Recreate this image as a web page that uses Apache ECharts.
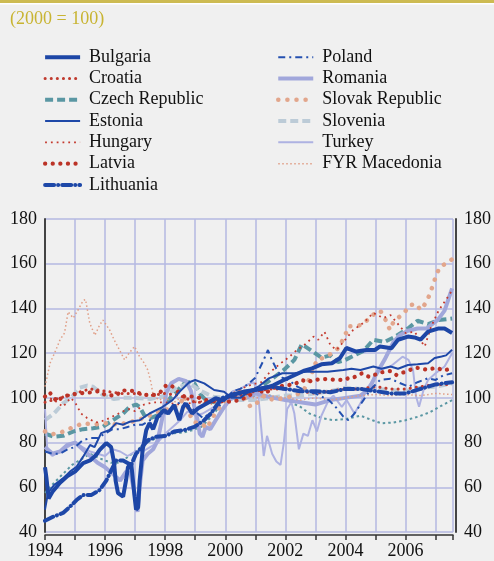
<!DOCTYPE html>
<html>
<head>
<meta charset="utf-8">
<script src="https://cdn.jsdelivr.net/npm/echarts@6/dist/echarts.min.js"></script>
<style>
  html, body { margin: 0; padding: 0; background: #f0f0f0; }
  #chart { width: 494px; height: 561px; }
</style>
</head>
<body>
<div id="chart"></div>
<script>
// index, 2000 = 100 -- [year, value]
var bulgaria = [[1994.0,69],[1994.05,64],[1994.12,55],[1994.25,58],[1994.5,62],[1994.75,65],[1995.0,67],[1995.27,70.8],[1995.5,72],[1995.7,74.4],[1995.82,76.7],[1996.04,79.8],[1996.2,78],[1996.3,71],[1996.35,63],[1996.43,57.4],[1996.6,55.8],[1996.7,63.3],[1996.76,69],[1996.87,70.8],[1996.98,56],[1997.03,50],[1997.1,51],[1997.15,63],[1997.25,76.7],[1997.37,85.6],[1997.48,88.7],[1997.6,86],[1997.75,91.6],[1997.97,94.6],[1998.1,93],[1998.3,96.8],[1998.47,90],[1998.6,96],[1998.69,97.5],[1998.9,93],[1999.1,95.4],[1999.41,97.7],[1999.68,99.8],[1999.9,99],[2000.18,101.3],[2000.62,102.8],[2001.0,103.5],[2001.3,104.3],[2001.6,105.6],[2001.95,108],[2002.28,110],[2002.6,112],[2002.89,113.2],[2003.2,115],[2003.55,115.5],[2003.82,117.8],[2004.03,122.3],[2004.36,120.7],[2004.7,121.4],[2004.98,121.4],[2005.15,123],[2005.53,122.2],[2005.75,126],[2006.08,127.4],[2006.3,127],[2006.5,126],[2006.75,129.6],[2007.08,131],[2007.3,131],[2007.55,129]];
var croatia = [[1994.0,98],[1994.5,100],[1995.0,102],[1995.5,104],[1996.0,103],[1996.5,102],[1997.0,102],[1997.5,101],[1998.0,102],[1998.5,101],[1999.0,98],[1999.5,98],[2000.0,100],[2000.5,101],[2001.0,103],[2001.5,104],[2002.0,104],[2002.5,103],[2003.0,102],[2003.5,103],[2004.0,104],[2004.5,104],[2005.0,105],[2005.5,104],[2006.0,104],[2006.5,105],[2007.0,106],[2007.55,106]];
var czech = [[1994.0,84],[1994.3,82.6],[1994.6,83],[1994.95,85],[1995.27,86],[1995.6,86.4],[1995.93,87.1],[1996.26,90],[1996.6,93],[1996.82,96],[1997.03,97],[1997.15,96],[1997.3,92.3],[1997.53,91],[1997.75,92.3],[1997.97,96],[1998.2,100.6],[1998.42,103.5],[1998.64,106.5],[1998.86,107.2],[1998.97,106.5],[1999.19,101.3],[1999.41,98.3],[1999.7,98],[2000.0,100],[2000.5,100],[2001.0,103],[2001.5,108],[2001.95,112.5],[2002.3,117],[2002.55,124],[2002.88,121],[2003.2,118],[2003.5,119],[2003.75,116],[2004.0,117],[2004.3,119],[2004.6,121],[2004.93,126],[2005.3,125],[2005.6,127],[2006.08,131],[2006.4,134.5],[2006.75,133],[2007.1,134.8],[2007.55,135.5]];
var estonia = [[1994.0,50],[1994.1,57.5],[1994.3,61],[1994.6,64],[1994.83,67],[1995.05,69.2],[1995.27,73.7],[1995.5,78.9],[1995.65,78],[1995.87,84.2],[1996.15,85.6],[1996.37,88.7],[1996.6,88],[1996.82,89.3],[1997.15,90],[1997.48,93],[1997.92,96],[1998.24,99],[1998.5,103],[1998.8,107],[1999.0,108],[1999.3,106.5],[1999.63,103.5],[1999.96,102.7],[2000.2,100],[2000.5,100],[2000.8,103],[2001.1,105],[2001.45,108.7],[2001.9,111],[2002.3,111],[2002.66,111.7],[2002.94,111.7],[2003.4,111.7],[2003.93,112.5],[2004.2,113],[2004.5,112.5],[2004.93,114],[2005.2,113],[2005.5,114],[2005.75,113],[2006.08,114.7],[2006.4,115],[2006.75,115.5],[2006.97,117.8],[2007.2,118.5],[2007.35,119],[2007.55,121.5]];
var hungary = [[1994.0,101],[1994.3,99],[1994.6,96],[1994.85,100],[1995.0,98],[1995.2,93],[1995.4,91],[1995.7,89],[1996.0,90],[1996.3,92],[1996.6,94],[1996.8,95],[1997.0,94],[1997.3,97],[1997.6,98],[1998.0,98],[1998.5,97],[1999.0,98],[1999.5,99],[2000.0,100],[2000.5,104],[2000.9,106],[2001.2,107],[2001.45,111],[2001.8,115],[2002.1,118],[2002.35,121],[2002.66,124],[2002.94,127.4],[2003.1,126],[2003.3,129.6],[2003.5,123.6],[2003.7,121.4],[2003.93,125],[2004.26,130.4],[2004.6,133.5],[2004.93,138],[2005.26,135.7],[2005.5,137],[2005.75,133],[2006.0,129],[2006.3,129.6],[2006.64,123],[2006.85,131.8],[2007.1,139],[2007.3,143],[2007.55,148]];
var latvia = [[1994.0,100.6],[1994.15,102.5],[1994.4,98.3],[1994.6,100.6],[1994.83,101.3],[1995.15,102],[1995.5,102.4],[1995.8,103],[1996.0,101.3],[1996.37,101],[1996.54,103.3],[1996.76,103.3],[1997.0,103],[1997.25,101.3],[1997.64,101.3],[1997.85,102.7],[1998.03,105.6],[1998.2,105.6],[1998.4,103],[1998.64,100.6],[1999.0,100.6],[1999.35,99],[1999.6,98.5],[2000.18,98.3],[2000.5,99],[2000.8,101],[2001.05,104.4],[2001.3,102],[2001.67,104.8],[2002.0,105.6],[2002.3,106],[2002.55,108],[2002.77,107],[2002.9,108],[2003.4,108.4],[2003.7,108],[2004.0,108],[2004.15,109.3],[2004.3,109.3],[2004.55,111],[2004.8,109.3],[2005.15,111.3],[2005.5,112],[2005.7,110.2],[2006.05,112],[2006.35,113.5],[2006.75,112.5],[2007.0,113.5],[2007.3,112.2],[2007.55,113.5]];
var lithuania = [[1994.0,45],[1994.3,47],[1994.6,48.5],[1994.83,51.3],[1995.05,54.3],[1995.27,56.6],[1995.55,56.6],[1995.82,58.8],[1996.04,63],[1996.15,66],[1996.37,72],[1996.6,72],[1996.87,70],[1997.03,75],[1997.2,77.6],[1997.42,81],[1997.7,82.6],[1998.03,83],[1998.3,85],[1998.64,85.6],[1998.97,87],[1999.3,90],[1999.52,93],[1999.68,96],[1999.9,100],[2000.2,101],[2000.5,102],[2000.8,103],[2001.1,104],[2001.5,105],[2002.0,104],[2002.5,103],[2003.0,103],[2003.5,102.5],[2004.0,104],[2004.5,104],[2005.0,103],[2005.5,102],[2006.0,102],[2006.5,104],[2007.0,106],[2007.55,107]];
var poland = [[1994.0,76],[1994.25,75],[1994.5,75],[1994.75,77],[1995.0,78],[1995.25,81],[1995.5,82],[1995.75,82],[1996.0,84],[1996.25,86],[1996.5,86],[1996.75,87],[1997.0,88],[1997.25,88],[1997.5,90],[1997.75,91],[1998.0,93],[1998.25,96],[1998.5,98],[1998.75,97],[1999.0,94],[1999.25,91],[1999.5,93],[1999.75,96],[2000.0,99],[2000.25,103],[2000.5,104],[2000.75,106],[2001.0,109],[2001.12,112.5],[2001.28,117],[2001.42,121.4],[2001.55,117],[2001.7,113],[2001.9,109],[2002.1,108],[2002.4,105],[2002.7,103],[2003.0,102],[2003.2,100.6],[2003.45,99],[2003.7,95.5],[2003.93,91.6],[2004.1,90],[2004.3,93],[2004.6,99],[2004.82,103.5],[2005.15,108],[2005.5,108.5],[2005.8,106.7],[2006.1,105],[2006.4,107],[2006.75,108.8],[2007.0,108],[2007.25,110],[2007.55,111]];
var romania = [[1994.0,78],[1994.25,75],[1994.5,76],[1994.75,79],[1995.0,80],[1995.25,77],[1995.5,74],[1995.75,71],[1996.0,69],[1996.25,66],[1996.5,63],[1996.7,67],[1996.85,66],[1997.0,56],[1997.08,49],[1997.15,60],[1997.25,72],[1997.42,75],[1997.6,77],[1997.75,81],[1997.92,92],[1998.03,102],[1998.2,106.5],[1998.45,108.5],[1998.7,107.5],[1998.86,103],[1998.97,96],[1999.08,90],[1999.15,84],[1999.24,82.6],[1999.35,87],[1999.5,86],[1999.68,90],[1999.9,94.6],[2000.13,99],[2000.4,101],[2000.7,100],[2001.0,102],[2001.3,101],[2001.6,100],[2002.0,99],[2002.5,98],[2003.0,97],[2003.5,99],[2004.0,100],[2004.5,101],[2004.8,104],[2005.0,110],[2005.3,117],[2005.6,125],[2005.8,128],[2006.08,130],[2006.4,131],[2006.7,131],[2007.08,135],[2007.3,139],[2007.45,145],[2007.55,149]];
var slovakia = [[1994.0,85],[1994.2,83.7],[1994.5,84.3],[1994.77,86],[1995.05,87.4],[1995.27,88.7],[1995.6,88],[1996.04,88.7],[1996.43,88],[1996.8,89],[1997.15,90.3],[1997.37,91.6],[1997.64,93],[1998.03,94.6],[1998.24,96],[1998.47,96.5],[1998.64,101],[1998.8,93],[1998.97,89],[1999.19,88.7],[1999.4,86.5],[1999.56,91],[1999.8,95.5],[2000.0,99],[2000.3,102],[2000.5,103],[2000.84,96],[2001.0,97],[2001.3,101],[2001.6,99],[2002.0,100],[2002.3,101],[2002.6,103],[2002.85,110],[2003.05,117],[2003.3,118],[2003.55,120],[2003.77,122.3],[2003.99,128],[2004.1,132],[2004.3,132],[2004.53,132.6],[2004.75,135],[2004.98,137.8],[2005.16,139],[2005.33,135],[2005.48,130.4],[2005.6,134],[2005.75,135.7],[2005.98,138.5],[2006.15,141.5],[2006.35,142],[2006.5,139.3],[2006.65,142],[2006.8,146],[2006.95,152],[2007.05,156],[2007.18,159],[2007.35,160],[2007.55,162]];
var slovenia = [[1994.0,90],[1994.3,93],[1994.6,97.5],[1994.9,100.5],[1995.15,104.5],[1995.4,105.5],[1995.6,105],[1995.95,101],[1996.3,99.5],[1996.6,100],[1997.0,100],[1997.5,99.5],[1998.0,101],[1998.4,104.5],[1998.8,106.5],[1999.2,103],[1999.6,100.5],[2000.0,100],[2000.5,99],[2001.0,99],[2001.5,100],[2002.0,101],[2002.5,101],[2003.0,102],[2003.5,103],[2004.0,104.5],[2004.5,104],[2005.0,104],[2005.5,103.5],[2006.0,103],[2006.5,104.5],[2007.0,105],[2007.55,106.5]];
var turkey = [[1994.0,95],[1994.08,76],[1994.25,74],[1994.5,76],[1994.75,78],[1995.0,80],[1995.25,78],[1995.5,76],[1995.75,75],[1996.0,74],[1996.25,77],[1996.5,76],[1996.75,74],[1997.0,76],[1997.25,76],[1997.5,78],[1997.75,80],[1998.0,84],[1998.25,87],[1998.5,90],[1998.75,94],[1999.0,92],[1999.25,93],[1999.5,95],[1999.75,97],[2000.0,100],[2000.25,103],[2000.5,104],[2000.75,106],[2000.95,107],[2001.1,101],[2001.2,86],[2001.28,74],[2001.39,83],[2001.56,75],[2001.7,71.5],[2001.84,70],[2001.95,80],[2002.06,95],[2002.2,98],[2002.3,93],[2002.45,77],[2002.6,84],[2002.75,83],[2002.9,90],[2003.05,85],[2003.2,92],[2003.44,99],[2003.6,101],[2003.88,96],[2004.04,99],[2004.3,93],[2004.5,97.6],[2004.76,105],[2005.15,112.5],[2005.5,114],[2005.9,118.4],[2006.1,117],[2006.25,112.5],[2006.35,100.6],[2006.45,96],[2006.6,103.5],[2006.75,108],[2007.0,111],[2007.3,114],[2007.55,120]];
var macedonia = [[1994.0,105],[1994.17,115.6],[1994.35,121],[1994.5,126],[1994.65,129],[1994.77,138.5],[1994.94,135.7],[1995.1,139.3],[1995.27,143.5],[1995.35,144],[1995.49,133.4],[1995.66,128],[1995.82,132.6],[1995.93,134.8],[1996.15,130.4],[1996.3,126],[1996.48,121.4],[1996.65,117],[1996.8,120],[1996.98,123],[1997.15,118.4],[1997.3,115.6],[1997.42,112.5],[1997.53,106.7],[1997.6,101],[1997.8,99],[1998.0,100],[1998.3,98],[1998.6,101],[1998.9,99],[1999.2,98],[1999.5,97],[1999.8,98],[2000.0,100],[2000.5,101],[2001.0,100],[2001.5,101],[2002.0,100],[2002.5,99],[2003.0,100],[2003.5,99],[2004.0,100],[2004.5,101],[2005.0,101.5],[2005.5,101],[2006.0,101.5],[2006.5,101],[2007.0,102],[2007.55,101.5]];
// unlabelled thin teal line
var other = [[1994.0,57.5],[1994.3,62],[1994.6,66],[1994.9,70],[1995.2,72.5],[1995.5,75],[1995.8,73],[1996.2,71],[1996.5,71],[1996.8,74],[1997.1,77],[1997.4,80],[1997.7,82],[1998.0,83.5],[1998.3,84.2],[1998.6,84.5],[1998.9,85.5],[1999.2,87],[1999.5,91],[1999.8,96],[2000.0,100],[2000.5,100],[2001.0,101],[2001.5,101],[2002.0,99],[2002.5,96],[2002.8,93],[2003.2,91],[2003.6,90],[2004.0,90.5],[2004.5,92],[2004.9,90],[2005.2,88.6],[2005.6,89],[2006.0,90],[2006.4,91.5],[2006.8,93.5],[2007.2,96.5],[2007.55,99]];

var legendLeft = ['Bulgaria', 'Croatia', 'Czech Republic', 'Estonia', 'Hungary', 'Latvia', 'Lithuania'];
var legendRight = ['Poland', 'Romania', 'Slovak Republic', 'Slovenia', 'Turkey', 'FYR Macedonia'];
var yTicks = { min: 40, max: 180, step: 20 };

var serif = 'Liberation Serif';

function line(name, data, color, width, dash, cap) {
  return {
    name: name,
    type: 'line',
    data: data,
    symbol: 'none',
    smooth: false,
    lineStyle: { color: color, width: width, type: dash || 'solid', cap: cap || 'butt' },
    itemStyle: { color: color }
  };
}

var chart = echarts.init(document.getElementById('chart'));

var legendBase = {
  orient: 'vertical',
  padding: 0,
  itemWidth: 35,
  itemHeight: 14,
  itemGap: 0,
  selectedMode: false,
  itemStyle: { opacity: 0 },
  lineStyle: { width: 'inherit' },
  textStyle: { fontFamily: serif, fontSize: 18, color: '#111', lineHeight: 21.3, padding: [0, 0, 0, 4] }
};

var option = {
  backgroundColor: '#f0f0f0',
  animation: false,
  graphic: [
    { type: 'rect', shape: { x: 0, y: 0, width: 494, height: 3 }, style: { fill: '#cdbb52' } },
    { type: 'rect', shape: { x: 0, y: 3, width: 494, height: 1.5 }, style: { fill: '#ffffff' } },
    { type: 'text', left: 10, top: 10, style: { text: '(2000 = 100)', font: '18px "Liberation Serif"', fill: '#c8b432' } }
  ],
  legend: [
    Object.assign({}, legendBase, { data: legendLeft, left: 43, top: 46.5 }),
    Object.assign({}, legendBase, { data: legendRight, left: 276, top: 46.5 })
  ],
  grid: { left: 45, right: 39, top: 219, bottom: 29 },
  xAxis: {
    type: 'value',
    min: 1994,
    max: 2007.58,
    interval: 1,
    offset: 3,
    axisLine: { lineStyle: { color: '#333', width: 1.5 } },
    axisTick: { length: 5, lineStyle: { color: '#333', width: 1.5 } },
    axisLabel: {
      fontFamily: serif, fontSize: 18, color: '#111', margin: 7,
      formatter: function (v) { return (Math.abs(v - Math.round(v)) < 1e-6 && Math.round(v) % 2 === 0) ? String(Math.round(v)) : ''; }
    },
    splitLine: { show: true, lineStyle: { color: '#b4b8e2', width: 1.5 } }
  },
  yAxis: [
    {
      type: 'value', position: 'left', min: yTicks.min, max: yTicks.max, interval: yTicks.step,
      axisLine: { show: true, lineStyle: { color: '#444', width: 2 } },
      axisTick: { show: false },
      axisLabel: { fontFamily: serif, fontSize: 18, color: '#111', margin: 8 },
      splitLine: { show: true, lineStyle: { color: '#b4b8e2', width: 1.5 } }
    },
    {
      type: 'value', position: 'right', offset: 3, min: yTicks.min, max: yTicks.max, interval: yTicks.step,
      axisLine: { show: true, lineStyle: { color: '#444', width: 2 } },
      axisTick: { show: false },
      axisLabel: { fontFamily: serif, fontSize: 18, color: '#111', margin: 8 },
      splitLine: { show: false }
    }
  ],
  series: [
    line('Other', other, '#5a97a3', 2, [2.5, 3]),
    line('Czech Republic', czech, '#5a97a3', 4, [8, 4]),
    line('Slovenia', slovenia, '#bccbd7', 4, [8, 4]),
    line('Turkey', turkey, '#aeb2e2', 2),
    line('Romania', romania, '#a1a7db', 4),
    line('FYR Macedonia', macedonia, '#e09d85', 1.5, [1.5, 2.5]),
    line('Slovak Republic', slovakia, '#e2a68c', 4.5, [0.1, 9], 'round'),
    line('Hungary', hungary, '#c4392d', 1.8, [1.8, 4]),
    line('Croatia', croatia, '#c03a2e', 3, [0.1, 6], 'round'),
    line('Latvia', latvia, '#bb3327', 4.2, [0.1, 7.5], 'round'),
    line('Poland', poland, '#2450b0', 2, [7, 4, 2, 4]),
    line('Lithuania', lithuania, '#1e48a8', 4, [9, 4, 0.1, 4], 'round'),
    line('Estonia', estonia, '#1e48a8', 2),
    line('Bulgaria', bulgaria, '#1d46a6', 4)
  ]
};

chart.setOption(option);
</script>
</body>
</html>
